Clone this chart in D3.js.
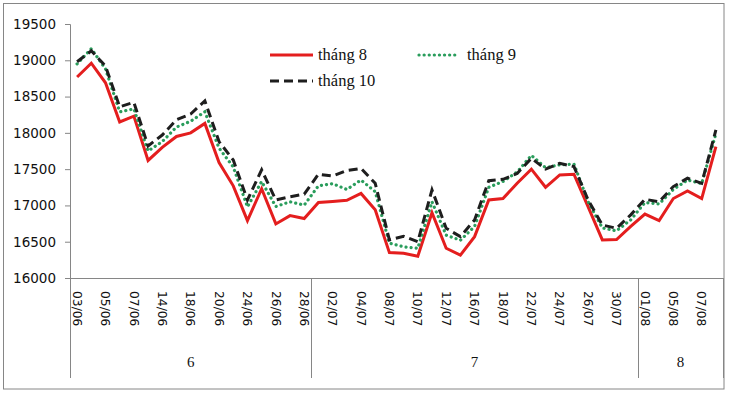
<!DOCTYPE html>
<html><head><meta charset="utf-8">
<script src="https://cdn.jsdelivr.net/npm/d3@7"></script>
<style>body{margin:0;background:#fff}svg{display:block}</style>
</head><body>
<svg id="c" width="730" height="393"></svg>
<script>
const categories = ["03/06","04/06","05/06","06/06","07/06","13/06","14/06","17/06","18/06","19/06","20/06","21/06","24/06","25/06","26/06","27/06","28/06",
"01/07","02/07","03/07","04/07","05/07","08/07","09/07","10/07","11/07","12/07","15/07","16/07","17/07","18/07","19/07","22/07","23/07","24/07","25/07","26/07","29/07","30/07","31/07",
"01/08","02/08","05/08","06/08","07/08","08/08"];
const months = ["6","7","8"];
const monthOf = categories.map(d => String(+d.slice(3)));
const thang8 = [18770,18960,18690,18150,18230,17620,17800,17950,18000,18130,17590,17270,16790,17230,16745,16860,16820,
17040,17055,17070,17165,16940,16350,16340,16300,16900,16410,16315,16570,17075,17095,17305,17500,17250,17420,17430,16980,16525,16530,
16710,16880,16790,17095,17200,17095,17810];
const thang9 = [18950,19160,18880,18290,18330,17750,17880,18080,18160,18290,17790,17530,16980,17330,16985,17050,17005,
17270,17300,17220,17350,17190,16480,16430,16410,17050,16590,16520,16710,17250,17330,17460,17690,17520,17560,17570,17050,16690,16650,
16800,17040,17020,17220,17350,17300,17990];
const thang10 = [18980,19130,18920,18360,18420,17820,17970,18180,18260,18440,17880,17625,17075,17490,17075,17120,17155,
17430,17405,17480,17510,17305,16525,16575,16500,17215,16685,16570,16800,17340,17360,17440,17650,17500,17580,17535,17075,16730,16685,
16870,17085,17050,17260,17375,17305,18040];
const yTicks = [16000,16500,17000,17500,18000,18500,19000,19500];
const seriesNames = ["tháng 8","tháng 9","tháng 10"];

const series = [
  {name: seriesNames[0], values: thang8, color: "#e41e1e", dash: null, cap: "butt"},
  {name: seriesNames[1], values: thang9, color: "#2a9d5c", dash: "0.1,5", cap: "round"},
  {name: seriesNames[2], values: thang10, color: "#1e1e1e", dash: "9,5", cap: "butt"}
];

const svg = d3.select("#c");
const L = 70, R = 723, T = 24, B = 278;
const axisColor = "#868686";

svg.append("rect").attr("x",3.5).attr("y",3.5).attr("width",720.5).attr("height",385.5)
  .attr("fill","none").attr("stroke",axisColor).attr("stroke-width",1);

const x = d3.scaleBand().domain(categories).range([L, R]);
const y = d3.scaleLinear().domain([16000, 19500]).range([B, T]);

// y axis
const yAxis = d3.axisLeft(y).tickValues(yTicks).tickSize(5).tickPadding(9).tickFormat(d3.format("d"));
const gy = svg.append("g").attr("transform", `translate(${L},0)`).call(yAxis);
gy.select(".domain").attr("stroke", axisColor);
gy.selectAll(".tick line").attr("stroke", axisColor);
gy.selectAll(".tick text").attr("font-family","DejaVu Sans, sans-serif").attr("font-size","13.5px").attr("fill","#111");

// x axis
const xAxis = d3.axisBottom(x).tickSize(0).tickFormat((d,i) => i % 2 === 0 ? d : "");
const gx = svg.append("g").attr("transform", `translate(0,${B})`).call(xAxis);
gx.select(".domain").attr("stroke", axisColor).attr("d", `M${L},0.5H${R}`);
gx.selectAll(".tick text")
  .attr("font-family","DejaVu Sans, sans-serif").attr("font-size","12.3px").attr("fill","#111")
  .attr("text-anchor","start").attr("dy","0.35em")
  .attr("transform","translate(0,13) rotate(90)").attr("x",0).attr("y",0);

// month group dividers and labels
const groups = months.map(m => {
  const cats = categories.filter((c,i) => monthOf[i] === m);
  const x0 = x(cats[0]), x1 = x(cats[cats.length-1]) + x.bandwidth();
  return {m, x0, x1};
});
const bounds = [L].concat(groups.map(g => g.x1));
svg.selectAll("line.div").data(bounds).enter().append("line")
  .attr("x1", d => Math.round(d)+0.5).attr("x2", d => Math.round(d)+0.5)
  .attr("y1", B).attr("y2", 378).attr("stroke", axisColor);
svg.selectAll("text.grp").data(groups).enter().append("text")
  .attr("x", d => (d.x0 + d.x1)/2).attr("y", 367)
  .attr("text-anchor","middle").attr("font-family","Liberation Serif, serif").attr("font-size","15px").attr("fill","#111")
  .text(d => d.m);

// lines
const line = d3.line().x((d,i) => x(categories[i]) + x.bandwidth()/2).y(d => y(d));
series.forEach(s => {
  svg.append("path").datum(s.values).attr("d", line).attr("fill","none")
    .attr("stroke", s.color).attr("stroke-width", s.name === seriesNames[1] ? 3.2 : 3)
    .attr("stroke-dasharray", s.dash).attr("stroke-linecap", s.cap).attr("stroke-linejoin","miter");
});

// legend
const legendPos = [{x:270, y:55}, {x:419, y:55}, {x:270, y:81}];
series.forEach((s, i) => {
  const p = legendPos[i];
  const len = i === 1 ? 39 : 43;
  svg.append("line").attr("x1", p.x).attr("x2", p.x + len).attr("y1", p.y).attr("y2", p.y)
    .attr("stroke", s.color).attr("stroke-width", i === 1 ? 3.2 : 3)
    .attr("stroke-dasharray", s.dash).attr("stroke-linecap", s.cap);
  svg.append("text").attr("x", p.x + len + (i === 1 ? 9 : 5)).attr("y", p.y).attr("dy","0.32em")
    .attr("font-family","Liberation Serif, serif").attr("font-size","16.5px").attr("fill","#111")
    .text(s.name);
});
</script>
</body></html>
